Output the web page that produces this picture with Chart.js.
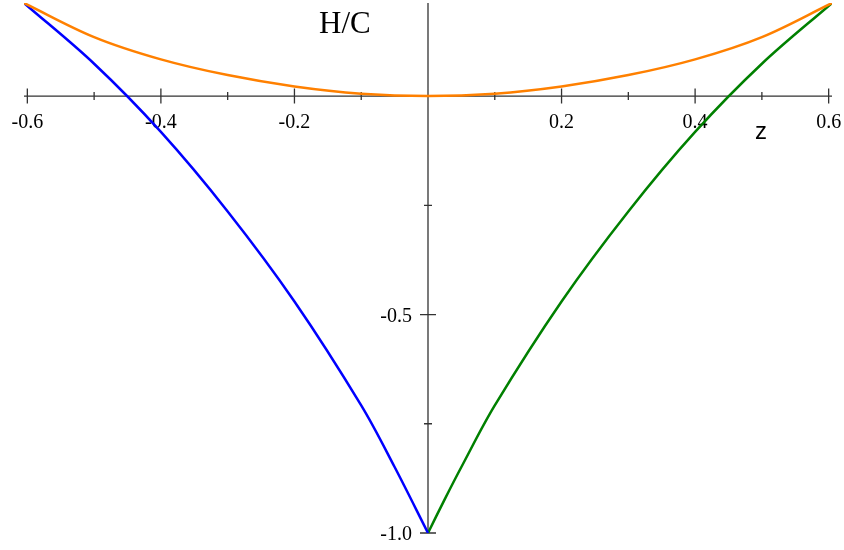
<!DOCTYPE html>
<html><head><meta charset="utf-8">
<script src="https://cdn.jsdelivr.net/npm/chart.js@4"></script>
<style>html,body{margin:0;padding:0;background:#fff}canvas{display:block}</style>
</head><body>
<canvas id="c" width="844" height="550"></canvas>
<script>
// Data
const blueZ = [-0.605, -0.5, -0.4, -0.3, -0.2, -0.1, -0.05, 0];
const blueH = [0.213, 0.074, -0.082, -0.264, -0.47, -0.708, -0.849, -1.0];
const greenZ = [0, 0.025, 0.05, 0.1, 0.2, 0.3, 0.4, 0.5, 0.605];
const greenH = [-1.0, -0.923, -0.849, -0.708, -0.47, -0.264, -0.082, 0.074, 0.213];
const orangeZ = [-0.605, -0.5, -0.4, -0.3, -0.2, -0.1, 0, 0.1, 0.2, 0.3, 0.4, 0.5, 0.605];
const orangeH = [0.213, 0.135, 0.084, 0.048, 0.022, 0.0055, 0, 0.0055, 0.022, 0.048, 0.084, 0.135, 0.213];

const xMajorTicks = [-0.6, -0.4, -0.2, 0.2, 0.4, 0.6];
const xMajorLabels = ['-0.6', '-0.4', '-0.2', '0.2', '0.4', '0.6'];
const xMinorTicks = [-0.5, -0.3, -0.1, 0.1, 0.3, 0.5];
const yMajorTicks = [-0.5, -1.0];
const yMajorLabels = ['-0.5', '-1.0'];
const yMinorTicks = [-0.25, -0.75];
const xTitle = 'z';
const yTitle = 'H/C';

const pts = (xs, ys) => xs.map((x, i) => ({x: x, y: ys[i]}));

const axesPlugin = {
  id: 'centerAxes',
  beforeDatasetsDraw(chart) {
    const ctx = chart.ctx, a = chart.chartArea;
    const xs = chart.scales.x, ys = chart.scales.y;
    const x0 = xs.getPixelForValue(0), y0 = ys.getPixelForValue(0);
    ctx.save();
    ctx.strokeStyle = '#333';
    ctx.lineWidth = 1.3;
    ctx.beginPath();
    ctx.moveTo(a.left, y0); ctx.lineTo(a.right, y0);
    ctx.moveTo(x0, a.top); ctx.lineTo(x0, a.bottom);
    xMajorTicks.forEach(v => { const p = xs.getPixelForValue(v); ctx.moveTo(p, y0 - 7.5); ctx.lineTo(p, y0 + 7.5); });
    xMinorTicks.forEach(v => { const p = xs.getPixelForValue(v); ctx.moveTo(p, y0 - 4); ctx.lineTo(p, y0 + 4); });
    yMajorTicks.forEach(v => { const p = ys.getPixelForValue(v); ctx.moveTo(x0 - 8, p); ctx.lineTo(x0 + 8, p); });
    yMinorTicks.forEach(v => { const p = ys.getPixelForValue(v); ctx.moveTo(x0 - 4, p); ctx.lineTo(x0 + 4, p); });
    ctx.stroke();
    ctx.fillStyle = '#000';
    ctx.font = '20px "Liberation Serif", "Times New Roman", serif';
    ctx.textAlign = 'center';
    ctx.textBaseline = 'alphabetic';
    xMajorTicks.forEach((v, i) => ctx.fillText(xMajorLabels[i], xs.getPixelForValue(v), y0 + 32));
    ctx.textAlign = 'right';
    ctx.textBaseline = 'middle';
    yMajorTicks.forEach((v, i) => ctx.fillText(yMajorLabels[i], x0 - 16, ys.getPixelForValue(v) + 2));
    ctx.textAlign = 'left';
    ctx.textBaseline = 'alphabetic';
    ctx.font = '31px "Liberation Serif", "Times New Roman", serif';
    ctx.fillText(yTitle, x0 - 109, y0 - 63);
    ctx.font = '24px "Liberation Sans", Arial, sans-serif';
    ctx.fillText(xTitle, x0 + 327, y0 + 43);
    ctx.restore();
  }
};

new Chart(document.getElementById('c'), {
  type: 'line',
  data: {
    datasets: [
      {data: pts(orangeZ, orangeH), borderColor: '#ff8000'},
      {data: pts(blueZ, blueH), borderColor: '#0000ff'},
      {data: pts(greenZ, greenH), borderColor: '#008000'}
    ]
  },
  options: {
    responsive: false,
    animation: false,
    devicePixelRatio: 1,
    layout: {padding: {left: 24, right: 12, top: 3, bottom: 17}},
    plugins: {legend: {display: false}, tooltip: {enabled: false}},
    elements: {
      point: {radius: 0},
      line: {borderWidth: 2.5, tension: 0.35, fill: false}
    },
    scales: {
      x: {type: 'linear', min: -0.605, max: 0.605, display: false},
      y: {type: 'linear', min: -1.0, max: 0.213, display: false}
    }
  },
  plugins: [axesPlugin]
});
</script>
</body></html>
